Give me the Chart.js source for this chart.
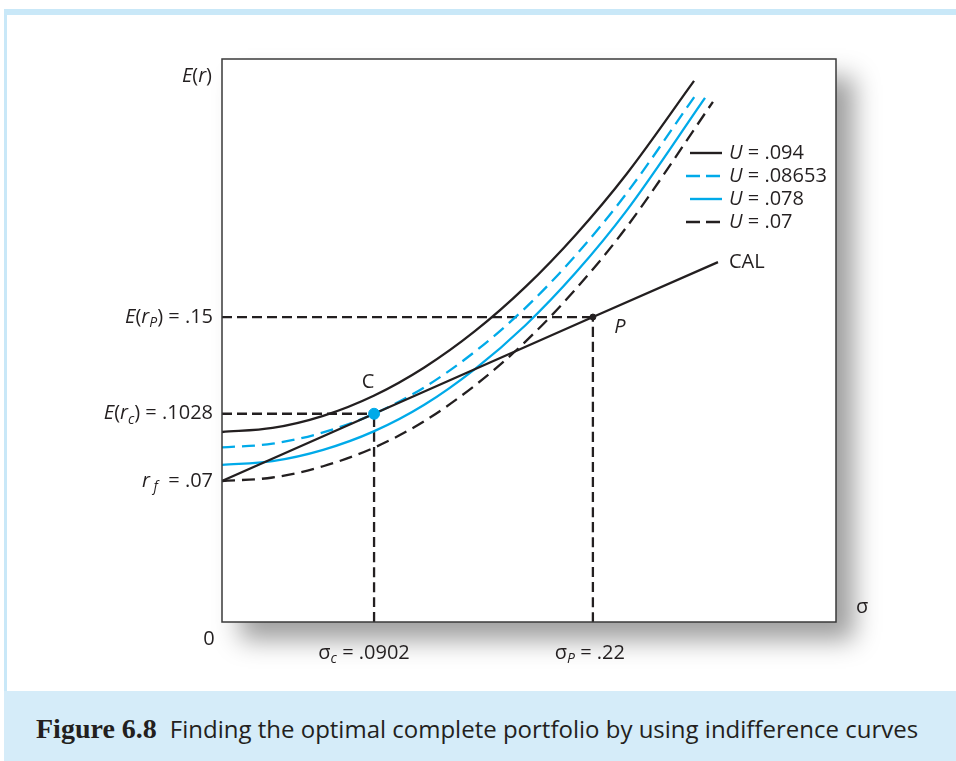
<!DOCTYPE html>
<html>
<head>
<meta charset="utf-8">
<script src="https://cdn.jsdelivr.net/npm/chart.js@4.4.1/dist/chart.umd.min.js"></script>
<style>
  html, body { margin: 0; padding: 0; background: #fff; }
  body { width: 956px; height: 761px; position: relative; overflow: hidden; font-family: "Open Sans", sans-serif; }
  .strip-top { position: absolute; left: 4px; top: 9px; width: 952px; height: 6px; background: #c9e8f8; }
  .strip-left { position: absolute; left: 4px; top: 9px; width: 3px; height: 752px; background: #c9e8f8; }
  .caption { position: absolute; left: 4px; top: 691px; width: 952px; height: 70px; background: #d5ecf9; }
  .caption p { margin: 0; position: absolute; left: 32px; top: 22px; line-height: 32px; font-size: 24px; color: #231f20; white-space: nowrap; }
  .caption b { font-family: "Liberation Serif", serif; font-size: 28px; margin-right: 13px; }
  .plotbox { position: absolute; left: 222px; top: 59px; width: 614px; height: 563px; background: #fff;
             box-shadow: 18px 18px 24px rgba(0,0,0,0.38); }
  #chart { position: absolute; left: 0; top: 0; }
</style>
</head>
<body>
<div class="strip-top"></div>
<div class="strip-left"></div>
<div class="plotbox"></div>
<canvas id="chart" width="956" height="690"></canvas>
<div class="caption"><p><b>Figure 6.8</b>Finding the optimal complete portfolio by using indifference curves</p></div>

<script>
// indifference curves (sigma, E(r))
const sigmaU094 = [0, 0.03, 0.06, 0.09, 0.12, 0.15, 0.18, 0.21, 0.24, 0.28];
const erU094    = [0.0939, 0.0959, 0.1018, 0.1116, 0.1254, 0.1431, 0.1647, 0.1903, 0.2198, 0.2652];

const sigmaU08653 = [0, 0.03, 0.06, 0.0902, 0.12, 0.15, 0.18, 0.21, 0.24, 0.2811];
const erU08653    = [0.0864, 0.0882, 0.0937, 0.1028, 0.1157, 0.1331, 0.1545, 0.1803, 0.2104, 0.2585];

const sigmaU078 = [0, 0.03, 0.06, 0.09, 0.12, 0.15, 0.18, 0.21, 0.24, 0.2865];
const erU078    = [0.0779, 0.0797, 0.0852, 0.0942, 0.1072, 0.1246, 0.1460, 0.1718, 0.2019, 0.2569];

const sigmaU07 = [0, 0.03, 0.06, 0.09, 0.12, 0.15, 0.18, 0.21, 0.24, 0.2912];
const erU07    = [0.0700, 0.0717, 0.0772, 0.0862, 0.0992, 0.1166, 0.1380, 0.1638, 0.1939, 0.2550];

// capital allocation line
const sigmaCAL = [0, 0.0902, 0.22, 0.2942];
const erCAL    = [0.07, 0.1028, 0.15, 0.1768];

// optimal complete portfolio C and risky portfolio P
const pointNames = ['C', 'P'];
const pointSigma = [0.0902, 0.22];
const pointEr    = [0.1028, 0.15];

const curveLabels = ['U = .094', 'U = .08653', 'U = .078', 'U = .07'];

const X_MIN = 0, X_MAX = 0.3642;
const Y_MIN = 0.0012, Y_MAX = 0.2759;

const BLACK = '#231f20';
const BLUE = '#00aae9';
const FONT = '"Open Sans", "Noto Sans", sans-serif';

function pts(xs, ys) {
  return xs.map((x, i) => ({ x: x, y: ys[i] }));
}

// draw text made of pieces (italic / subscript)
function drawRich(ctx, parts, x, y, align, size) {
  const sub = Math.round(size * 0.68);
  const fontOf = p => (p.i ? 'italic ' : '') + (p.sub ? sub : size) + 'px ' + FONT;
  let w = 0;
  parts.forEach(p => { ctx.font = fontOf(p); w += ctx.measureText(p.t).width; });
  let cx = align === 'right' ? x - w : align === 'center' ? x - w / 2 : x;
  ctx.textAlign = 'left';
  ctx.textBaseline = 'middle';
  parts.forEach(p => {
    ctx.font = fontOf(p);
    ctx.fillText(p.t, cx, p.sub ? y + size * 0.3 : y);
    cx += ctx.measureText(p.t).width;
  });
}

const annotations = {
  id: 'annotations',
  afterDraw(chart) {
    const { ctx, chartArea: a, scales: { x, y } } = chart;
    ctx.save();
    // frame
    ctx.strokeStyle = '#3a3a3a';
    ctx.lineWidth = 1.5;
    ctx.strokeRect(a.left, a.top, a.right - a.left, a.bottom - a.top);

    ctx.fillStyle = BLACK;
    const S = 20;
    // y side labels
    drawRich(ctx, [{ t: 'E', i: true }, { t: '(' }, { t: 'r', i: true }, { t: ')' }], a.left - 10, a.top + 17, 'right', S);
    drawRich(ctx, [{ t: 'E', i: true }, { t: '(' }, { t: 'r', i: true }, { t: 'P', i: true, sub: true }, { t: ') = .15' }],
      a.left - 9, y.getPixelForValue(pointEr[1]), 'right', S);
    drawRich(ctx, [{ t: 'E', i: true }, { t: '(' }, { t: 'r', i: true }, { t: 'c', i: true, sub: true }, { t: ') = .1028' }],
      a.left - 9, y.getPixelForValue(pointEr[0]), 'right', S);
    drawRich(ctx, [{ t: 'r', i: true }, { t: ' f', i: true, sub: true }, { t: '  = .07' }],
      a.left - 9, y.getPixelForValue(erCAL[0]), 'right', S);
    drawRich(ctx, [{ t: '0' }], a.left - 13, a.bottom + 17, 'center', S);

    // x side labels
    drawRich(ctx, [{ t: 'σ' }, { t: 'c', i: true, sub: true }, { t: ' = .0902' }],
      x.getPixelForValue(pointSigma[0]) - 10, a.bottom + 31, 'center', S);
    drawRich(ctx, [{ t: 'σ' }, { t: 'P', i: true, sub: true }, { t: ' = .22' }],
      x.getPixelForValue(pointSigma[1]) - 3, a.bottom + 31, 'center', S);
    drawRich(ctx, [{ t: 'σ' }], a.right + 26, a.bottom - 15, 'center', S);

    // point and line labels
    const cx = x.getPixelForValue(pointSigma[0]), cy = y.getPixelForValue(pointEr[0]);
    drawRich(ctx, [{ t: pointNames[0] }], cx - 6, cy - 31, 'center', S);
    const px = x.getPixelForValue(pointSigma[1]), py = y.getPixelForValue(pointEr[1]);
    drawRich(ctx, [{ t: pointNames[1], i: true }], px + 27, py + 10, 'center', S);
    const lx = x.getPixelForValue(sigmaCAL[sigmaCAL.length - 1]), ly = y.getPixelForValue(erCAL[erCAL.length - 1]);
    drawRich(ctx, [{ t: 'CAL' }], lx + 11, ly, 'left', S);

    // legend for the curves
    const styles = [
      { c: BLACK, d: [] }, { c: BLUE, d: [14, 6] }, { c: BLUE, d: [] }, { c: BLACK, d: [14, 6] }
    ];
    curveLabels.forEach((lab, i) => {
      const ly2 = a.top + 94 + i * 23;
      ctx.strokeStyle = styles[i].c;
      ctx.lineWidth = 2.4;
      ctx.setLineDash(styles[i].d);
      ctx.beginPath();
      ctx.moveTo(styles[i].d.length ? a.right - 150 : a.right - 146, ly2);
      ctx.lineTo(a.right - 114, ly2);
      ctx.stroke();
      ctx.setLineDash([]);
      ctx.fillStyle = BLACK;
      const parts = lab.split(' ');
      drawRich(ctx, [{ t: parts[0], i: true }, { t: ' ' + parts.slice(1).join(' ') }], a.right - 107, ly2, 'left', S);
    });
    ctx.restore();
  }
};

const lineBase = { showLine: true, pointRadius: 0, borderWidth: 2.3, fill: false, cubicInterpolationMode: 'monotone' };

new Chart(document.getElementById('chart'), {
  type: 'scatter',
  data: {
    datasets: [
      { label: 'C', data: pts([pointSigma[0]], [pointEr[0]]), pointRadius: 5.5, backgroundColor: BLUE, borderColor: BLUE, showLine: false },
      { label: 'P', data: pts([pointSigma[1]], [pointEr[1]]), pointRadius: 3, backgroundColor: BLACK, borderColor: BLACK, showLine: false },
      { ...lineBase, label: 'CAL', data: pts(sigmaCAL, erCAL), borderColor: BLACK, cubicInterpolationMode: 'default', tension: 0 },
      { ...lineBase, label: curveLabels[0], data: pts(sigmaU094, erU094), borderColor: BLACK },
      { ...lineBase, label: curveLabels[1], data: pts(sigmaU08653, erU08653), borderColor: BLUE, borderDash: [13, 7] },
      { ...lineBase, label: curveLabels[2], data: pts(sigmaU078, erU078), borderColor: BLUE },
      { ...lineBase, label: curveLabels[3], data: pts(sigmaU07, erU07), borderColor: BLACK, borderDash: [13, 7] },
      // dashed guides to the axes
      { ...lineBase, label: 'gP-h', data: pts([X_MIN, pointSigma[1]], [pointEr[1], pointEr[1]]), borderColor: BLACK, borderDash: [10, 5], tension: 0 },
      { ...lineBase, label: 'gP-v', data: pts([pointSigma[1], pointSigma[1]], [Y_MIN, pointEr[1]]), borderColor: BLACK, borderDash: [10, 5], tension: 0 },
      { ...lineBase, label: 'gC-h', data: pts([X_MIN, pointSigma[0]], [pointEr[0], pointEr[0]]), borderColor: BLACK, borderDash: [10, 5], tension: 0 },
      { ...lineBase, label: 'gC-v', data: pts([pointSigma[0], pointSigma[0]], [Y_MIN, pointEr[0]]), borderColor: BLACK, borderDash: [10, 5], tension: 0 }
    ]
  },
  options: {
    responsive: false,
    animation: false,
    layout: { padding: { left: 222, top: 59, right: 120, bottom: 68 } },
    scales: {
      x: { type: 'linear', min: X_MIN, max: X_MAX, display: false },
      y: { type: 'linear', min: Y_MIN, max: Y_MAX, display: false }
    },
    plugins: { legend: { display: false }, tooltip: { enabled: false } }
  },
  plugins: [annotations]
});
</script>
</body>
</html>
